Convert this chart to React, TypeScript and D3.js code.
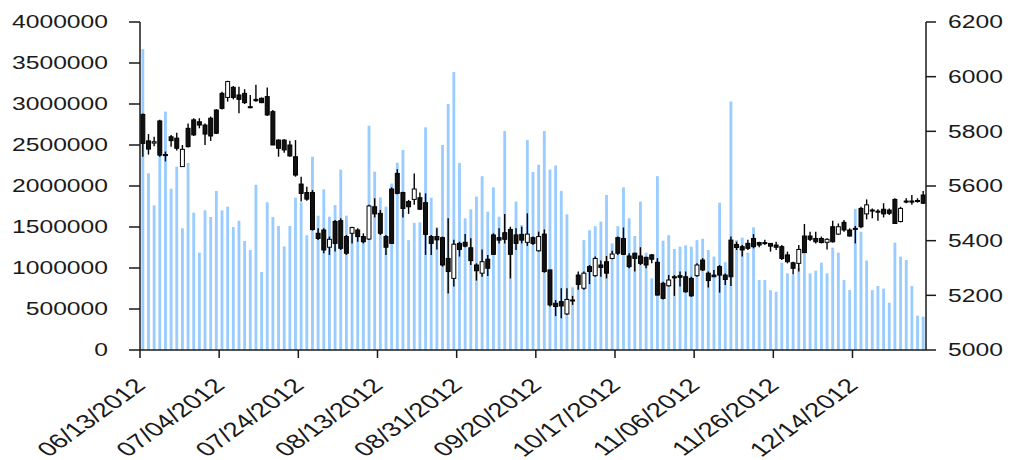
import React from "react";
import * as d3 from "d3";

const opens = [5862,5765,5757,5838,5715,5780,5775,5671,5811,5842,
5835,5823,5848,5878,5939,5924,5961,5933,5939,5890,
5917,5921,5927,5872,5768,5768,5750,5707,5607,5576,
5576,5427,5439,5376,5470,5473,5415,5427,5439,5415,
5406,5524,5500,5415,5589,5646,5576,5543,5551,5557,
5539,5415,5415,5411,5335,5262,5390,5394,5374,5311,
5281,5332,5421,5411,5429,5441,5421,5423,5394,5411,
5363,5424,5293,5171,5177,5132,5180,5274,5226,5305,
5272,5311,5323,5335,5411,5408,5344,5354,5344,5339,
5348,5321,5244,5235,5268,5272,5268,5262,5272,5329,
5281,5274,5305,5274,5402,5386,5378,5390,5408,5393,
5393,5390,5384,5378,5348,5319,5317,5417,5417,5408,
5408,5394,5451,5424,5467,5439,5445,5518,5498,5512,
5508,5515,5512,5551,5470,5545,5545,5547,5567];

const highs = [5865,5790,5780,5842,5726,5787,5795,5750,5829,5848,
5848,5829,5854,5881,5945,5985,5966,5963,5954,5933,
5970,5924,5960,5878,5771,5771,5766,5768,5634,5597,
5585,5445,5445,5415,5476,5482,5421,5451,5445,5427,
5531,5555,5512,5421,5595,5661,5579,5549,5646,5576,
5573,5421,5445,5415,5482,5403,5396,5424,5409,5317,
5368,5348,5427,5445,5498,5451,5445,5451,5500,5415,
5433,5441,5293,5183,5226,5226,5198,5287,5287,5311,
5342,5327,5344,5363,5415,5448,5354,5356,5376,5341,
5351,5336,5250,5274,5274,5287,5287,5268,5317,5336,
5287,5293,5311,5280,5415,5396,5384,5403,5424,5396,
5403,5390,5396,5384,5360,5323,5384,5461,5433,5433,
5415,5409,5473,5463,5476,5445,5454,5524,5551,5518,
5515,5537,5518,5555,5524,5555,5567,5555,5582];

const lows = [5707,5715,5745,5707,5690,5744,5730,5671,5741,5783,
5811,5750,5765,5790,5880,5909,5917,5866,5900,5884,
5908,5903,5856,5750,5707,5722,5707,5634,5543,5546,
5437,5402,5354,5348,5360,5366,5348,5390,5396,5390,
5402,5485,5421,5348,5390,5570,5485,5498,5531,5512,
5348,5348,5368,5305,5207,5232,5342,5376,5311,5254,
5268,5271,5348,5390,5390,5262,5366,5390,5381,5384,
5360,5283,5159,5124,5116,5128,5165,5220,5220,5241,
5268,5268,5262,5332,5348,5348,5299,5287,5311,5299,
5317,5199,5185,5232,5198,5232,5210,5195,5268,5289,
5229,5268,5210,5238,5234,5366,5342,5366,5372,5376,
5384,5360,5366,5329,5317,5277,5287,5354,5399,5390,
5390,5368,5393,5421,5433,5415,5390,5445,5478,5482,
5473,5485,5494,5461,5467,5537,5531,5539,5534];

const closes = [5756,5735,5762,5713,5712,5766,5738,5734,5744,5787,
5823,5790,5783,5793,5884,5982,5924,5917,5905,5888,
5912,5905,5860,5750,5738,5732,5710,5640,5573,5552,
5441,5408,5366,5405,5390,5372,5354,5448,5415,5396,
5527,5498,5427,5376,5390,5573,5518,5524,5589,5515,
5423,5390,5403,5311,5287,5387,5368,5380,5327,5290,
5323,5299,5350,5402,5405,5350,5390,5402,5424,5390,
5415,5287,5165,5159,5161,5185,5183,5240,5281,5287,
5335,5302,5281,5351,5354,5350,5305,5335,5317,5311,
5332,5201,5189,5256,5264,5266,5213,5198,5311,5293,
5254,5268,5274,5258,5268,5375,5366,5372,5378,5384,
5390,5380,5376,5335,5323,5299,5368,5356,5405,5396,
5393,5405,5396,5451,5439,5417,5443,5451,5531,5510,
5505,5498,5500,5463,5518,5543,5541,5546,5537];

const volumes = [3670000,2155000,1764000,2750000,2907000,1967000,2236000,1484000,2280000,1675000,
1187000,1703000,1622000,1939000,1703000,1748000,1500000,1577000,1329000,1220000,
2016000,951000,1801000,1622000,1512000,1264000,1512000,1857000,1800000,1400000,
2357000,1638000,1960000,1626000,1768000,2200000,1638000,1420000,1460000,1380000,
2735000,2175000,1860000,1748000,2030000,2284000,2440000,1340000,1550000,1557000,
2715000,1857000,1500000,2500000,3000000,3390000,2280000,1606000,1715000,1870000,
2120000,1687000,1984000,1626000,2670000,1480000,1810000,1524000,2560000,2170000,
2260000,2670000,2200000,2250000,1940000,1655000,765000,927000,1340000,1460000,
1510000,1565000,1890000,1300000,1510000,1984000,1606000,1390000,1810000,1187000,
874000,2120000,1333000,1400000,1232000,1260000,1277000,1260000,1340000,1357000,
1220000,1140000,1796000,1070000,3030000,1340000,1370000,1187000,1496000,854000,
854000,730000,711000,1065000,935000,923000,1000000,1170000,935000,967000,
1065000,935000,1248000,1187000,854000,730000,1720000,1443000,1090000,730000,
780000,748000,577000,1309000,1138000,1098000,780000,419000,407000];

const tickLabels = ["06/13/2012","07/04/2012","07/24/2012","08/13/2012","08/31/2012",
  "09/20/2012","10/17/2012","11/06/2012","11/26/2012","12/14/2012"];
const tickEvery = 14;
const volTicks = [0,500000,1000000,1500000,2000000,2500000,3000000,3500000,4000000];
const priceTicks = [5000,5200,5400,5600,5800,6000,6200];

const W = 1027, H = 460;
const L = 140, R = 926, T = 22, B = 350;
const SX = 1.41;
const FONT = "'Liberation Sans', Arial, sans-serif";
const INK = "#1a1a1a";

export default function App() {
  const n = volumes.length;
  const x = d3.scaleBand<number>().domain(d3.range(n)).range([L, R]).padding(0);
  const bw = x.bandwidth();
  const yV = d3.scaleLinear().domain([0, 4000000]).range([B, T]);
  const yP = d3.scaleLinear().domain([5000, 6200]).range([B, T]);
  const volW = bw * 0.5;
  const bodyW = bw * 0.7;

  return (
    <svg width={W} height={H} style={{ position: "absolute", left: 0, top: 0, background: "#fff" }}>
      <rect width={W} height={H} fill="#fff" />
      <g>
        {volumes.map((v, i) => {
          const cx = (x(i) as number) + bw / 2;
          return <rect key={i} x={cx - volW / 2} y={yV(v)} width={volW} height={B - yV(v)} fill="#99ccff" />;
        })}
      </g>
      <g>
        {opens.map((o, i) => {
          const c = closes[i];
          const cx = (x(i) as number) + bw / 2;
          const up = c >= o;
          const yt = yP(Math.max(o, c));
          const yb = yP(Math.min(o, c));
          const h = Math.max(1, yb - yt);
          return (
            <g key={i}>
              <line x1={cx} x2={cx} y1={yP(highs[i])} y2={yP(lows[i])} stroke="#000" strokeWidth={1.4} />
              <rect x={cx - bodyW / 2} y={yt} width={bodyW} height={h} fill={up ? "#fff" : "#111"} stroke="#000" strokeWidth={1} />
            </g>
          );
        })}
      </g>
      <g stroke={INK} strokeWidth={1.5} fill="none">
        <line x1={L} x2={L} y1={T} y2={B} />
        <line x1={R} x2={R} y1={T} y2={B} />
        <line x1={L} x2={R} y1={B} y2={B} />
        {volTicks.map((t) => (
          <line key={"lv" + t} x1={L - 11} x2={L} y1={yV(t)} y2={yV(t)} />
        ))}
        {priceTicks.map((t) => (
          <line key={"rp" + t} x1={R} x2={R + 10} y1={yP(t)} y2={yP(t)} />
        ))}
        {tickLabels.map((_, k) => {
          const tx = x(k * tickEvery) as number;
          return <line key={"bt" + k} x1={tx} x2={tx} y1={B} y2={B + 8} />;
        })}
      </g>
      <g fontFamily={FONT} fontSize={17.5} fill={INK}>
        {volTicks.map((t) => (
          <text key={"lt" + t} transform={`translate(108,${yV(t) + 6.3}) scale(${SX},1)`} textAnchor="end">
            {t}
          </text>
        ))}
        {priceTicks.map((t) => (
          <text key={"rt" + t} transform={`translate(948,${yP(t) + 6.3}) scale(${SX},1)`} textAnchor="start">
            {t}
          </text>
        ))}
      </g>
      <g fontFamily={FONT} fontSize={20} fill={INK}>
        {tickLabels.map((lab, k) => {
          const tx = x(k * tickEvery) as number;
          return (
            <text key={"dl" + k} transform={`translate(${tx + 7},387) scale(1.39,1) rotate(-45)`} textAnchor="end">
              {lab}
            </text>
          );
        })}
      </g>
    </svg>
  );
}
